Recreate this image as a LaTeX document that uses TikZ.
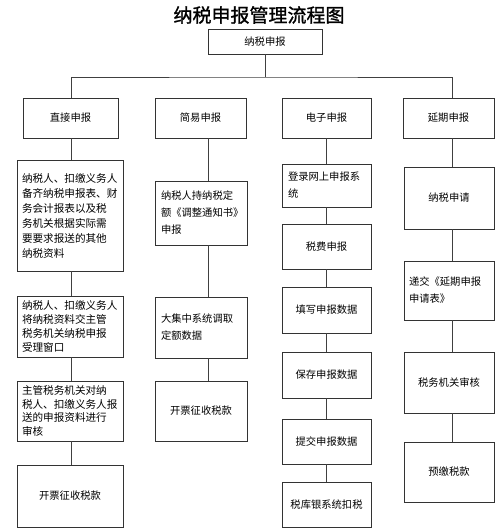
\documentclass[tikz,border=0pt]{standalone}
\usepackage{fontspec}
\newfontfamily\cjk{Noto Sans CJK SC}
\newfontfamily\cjktitle[FakeBold=1.2]{Noto Sans CJK SC}
\begin{document}
\begin{tikzpicture}[x=1pt,y=-1pt,
  box/.style={draw=black!80, line width=0.9pt, inner sep=0pt, fill=white,
    font=\cjk\fontsize{10.3}{15}\selectfont},
  tbox/.style={box, align=left},
  conn/.style={draw=black!75, line width=0.8pt}]
\useasboundingbox[fill=white] (0,0) rectangle (500,530);

% title
\node[font=\cjktitle\fontsize{19}{19}\selectfont] (title) at (259,15) {纳税申报管理流程图};

% top
\node[box, minimum width=114pt, minimum height=25pt] (top) at (265,41.5) {纳税申报};

% level 2
\node[box, minimum width=95pt, minimum height=40pt] (d1) at (70.5,118) {直接申报};
\node[box, minimum width=91pt, minimum height=40pt] (d2) at (200.5,118) {简易申报};
\node[box, minimum width=89pt, minimum height=40pt] (d3) at (326.5,118) {电子申报};
\node[box, minimum width=91pt, minimum height=40pt] (d4) at (448.5,118) {延期申报};

% column axes
\coordinate (ax1) at (71,0);
\coordinate (ax2) at (208,0);
\coordinate (ax3) at (326.5,0);
\coordinate (ax4) at (452,0);

% column 1
\node[tbox, minimum width=106pt, minimum height=111pt, text width=96pt,
  font=\cjk\fontsize{10.6}{15}\selectfont] (a1) at (70,215.5)
  {纳税人、扣缴义务人\\备齐纳税申报表、财\\务会计报表以及税\\务机关根据实际需\\要要求报送的其他\\纳税资料};
\node[tbox, minimum width=106pt, minimum height=61pt, text width=96pt,
  font=\cjk\fontsize{10.6}{14}\selectfont] (b1) at (70,326.5)
  {纳税人、扣缴义务人\\将纳税资料交主管\\税务机关纳税申报\\受理窗口};
\node[tbox, minimum width=106pt, minimum height=60pt, text width=96pt,
  font=\cjk\fontsize{10.6}{13.5}\selectfont] (c1) at (70,411)
  {主管税务机关对纳\\税人、扣缴义务人报\\送的申报资料进行\\审核};
\node[box, minimum width=106pt, minimum height=62pt] (e1) at (70,496) {开票征收税款};

% column 2
\node[tbox, minimum width=92pt, minimum height=64pt, text width=80pt,
  font=\cjk\fontsize{10.3}{17}\selectfont] (a2) at (201,213)
  {纳税人持纳税定\\额《调整通知书》\\申报};
\node[tbox, minimum width=92pt, minimum height=61pt, text width=80pt,
  font=\cjk\fontsize{10.3}{17}\selectfont] (b2) at (201,327.5)
  {大集中系统调取\\定额数据};
\node[box, minimum width=92pt, minimum height=60pt] (c2) at (201,411) {开票征收税款};

% column 3
\node[tbox, minimum width=89pt, minimum height=43pt, text width=77pt,
  font=\cjk\fontsize{10.3}{17}\selectfont] (a3) at (326.5,185.5)
  {登录网上申报系\\统};
\node[box, minimum width=89pt, minimum height=45pt] (b3) at (326.5,246.5) {税费申报};
\node[box, minimum width=89pt, minimum height=46pt] (c3) at (326.5,310) {填写申报数据};
\node[box, minimum width=89pt, minimum height=46pt] (e3) at (326.5,375) {保存申报数据};
\node[box, minimum width=89pt, minimum height=45pt] (f3) at (326.5,441.5) {提交申报数据};
\node[box, minimum width=89pt, minimum height=45pt] (g3) at (326.5,504.5) {税库银系统扣税};

% column 4
\node[box, minimum width=90pt, minimum height=62pt] (a4) at (449,198) {纳税申请};
\node[tbox, minimum width=90pt, minimum height=59pt, text width=80pt,
  font=\cjk\fontsize{10.3}{17}\selectfont] (b4) at (449,290.5)
  {递交《延期申报\\申请表》};
\node[box, minimum width=90pt, minimum height=61pt] (c4) at (449,382.5) {税务机关审核};
\node[box, minimum width=90pt, minimum height=60pt] (e4) at (449,472) {预缴税款};

% connectors: top to bus
\coordinate (bus) at (265,77);
\draw[conn] (top.south) -- (bus);
\draw[conn] (d1.north -| ax1) |- (bus) -| (d4.north -| ax4);
\draw[conn] (d2.north -| ax2) -- (d2.north -| ax2 |- bus);
\draw[conn] (d3.north -| ax3) -- (d3.north -| ax3 |- bus);

% column chains
\draw[conn] (d1.south -| ax1) -- (a1.north -| ax1);
\draw[conn] (a1.south -| ax1) -- (b1.north -| ax1);
\draw[conn] (b1.south -| ax1) -- (c1.north -| ax1);
\draw[conn] (c1.south -| ax1) -- (e1.north -| ax1);

\draw[conn] (d2.south -| ax2) -- (a2.north -| ax2);
\draw[conn] (a2.south -| ax2) -- (b2.north -| ax2);
\draw[conn] (b2.south -| ax2) -- (c2.north -| ax2);

\draw[conn] (d3.south -| ax3) -- (a3.north -| ax3);
\draw[conn] (a3.south -| ax3) -- (b3.north -| ax3);
\draw[conn] (b3.south -| ax3) -- (c3.north -| ax3);
\draw[conn] (c3.south -| ax3) -- (e3.north -| ax3);
\draw[conn] (e3.south -| ax3) -- (f3.north -| ax3);
\draw[conn] (f3.south -| ax3) -- (g3.north -| ax3);

\draw[conn] (d4.south -| ax4) -- (a4.north -| ax4);
\draw[conn] (a4.south -| ax4) -- (b4.north -| ax4);
\draw[conn] (b4.south -| ax4) -- (c4.north -| ax4);
\draw[conn] (c4.south -| ax4) -- (e4.north -| ax4);
\end{tikzpicture}
\end{document}
